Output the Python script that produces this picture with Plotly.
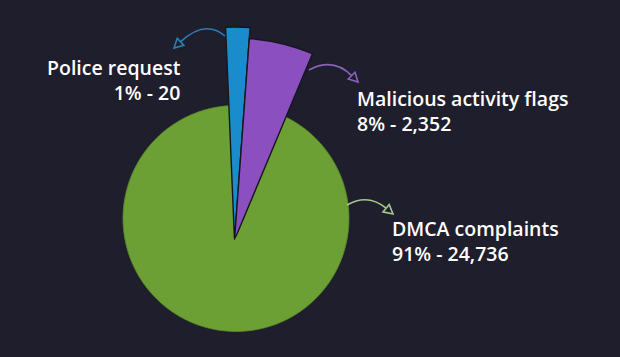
import numpy as np
import plotly.graph_objects as go

# ---------------- data ----------------
labels = ["Police request", "Malicious activity flags", "DMCA complaints"]
percents = [1, 8, 91]
counts = [20, 2352, 24736]
# angular sweep of each slice as drawn in the picture (degrees, clockwise from 12 o'clock)
drawn_sweep_deg = [6.6, 18.5, 334.9]
start_angle_deg = -2.4

# ---------------- styling / layout constants ----------------
W, H = 620, 357
BG = "#1f1e2d"
COLORS = ["#1a8ccc", "#8b4fc0", "#6ca034"]
ARROW_COLORS = ["#2c7db3", "#8a62bb", "#a6c68c"]
EDGE = "#17161f"
FONT = "Open Sans"

GREEN_C = (236.0, 218.5)   # centre of the green disc (px)
GREEN_R = 115.0            # polar radial range for green subplot
APEX = (234.5, 240.0)      # apex of the pulled-out wedges (px)
WEDGE_R = 215.0            # polar radial range for wedge subplot
wedge_len = [213, 202]     # drawn length of blue / purple wedges
green_len = 113

sweep = np.array(drawn_sweep_deg, dtype=float)
theta_start = start_angle_deg + np.concatenate([[0.0], np.cumsum(sweep)[:-1]])
theta_mid = theta_start + sweep / 2


def fx(x):
    return x / W


def fy(y):
    return 1 - y / H


fig = go.Figure()

# green disc (DMCA complaints)
fig.add_trace(go.Barpolar(
    r=[green_len], theta=[theta_mid[2]], width=[sweep[2]],
    marker=dict(color=COLORS[2], line=dict(width=0.8, color="#5a8a2a")),
    subplot="polar", hoverinfo="skip", name=labels[2],
))

# pulled wedges (police request, malicious activity flags)
fig.add_trace(go.Barpolar(
    r=wedge_len, theta=list(theta_mid[:2]), width=list(sweep[:2]),
    marker=dict(color=COLORS[:2], line=dict(width=1.4, color=EDGE)),
    subplot="polar2", hoverinfo="skip",
))

hidden_axes = dict(
    bgcolor="rgba(0,0,0,0)",
    angularaxis=dict(rotation=90, direction="clockwise", visible=False,
                     showgrid=False, showline=False, ticks=""),
)

fig.update_layout(
    width=W, height=H,
    margin=dict(l=0, r=0, t=0, b=0),
    paper_bgcolor=BG, plot_bgcolor=BG,
    showlegend=False,
    polar=dict(
        domain=dict(x=[fx(GREEN_C[0] - GREEN_R), fx(GREEN_C[0] + GREEN_R)],
                    y=[fy(GREEN_C[1] + GREEN_R), fy(GREEN_C[1] - GREEN_R)]),
        radialaxis=dict(range=[0, GREEN_R], visible=False, showgrid=False,
                        showline=False, ticks=""),
        **hidden_axes,
    ),
    polar2=dict(
        sector=[60, 120],
        domain=dict(x=[fx(APEX[0] - WEDGE_R / 2), fx(APEX[0] + WEDGE_R / 2)],
                    y=[fy(APEX[1]), fy(APEX[1] - WEDGE_R)]),
        radialaxis=dict(range=[0, WEDGE_R], visible=False, showgrid=False,
                        showline=False, ticks=""),
        **hidden_axes,
    ),
)


def P(p):
    return f"{fx(p[0]):.5f},{fy(p[1]):.5f}"


# curved arrows: (start, control, end) in px
arrows = [
    ((225, 36), (205, 19), (174, 48)),
    ((309, 70), (333, 57), (358, 82)),
    ((347, 205), (368, 193), (393, 214)),
]
shapes = []
for (p0, p1, p2), col in zip(arrows, ARROW_COLORS):
    d = np.array(p2, float) - np.array(p1, float)
    d /= np.linalg.norm(d)
    n = np.array([-d[1], d[0]])
    tip = np.array(p2, float)
    base = tip - 9 * d
    c1 = base + 4.8 * n
    c2 = base - 4.8 * n
    shapes.append(dict(type="path", xref="paper", yref="paper",
                       path=f"M {P(p0)} Q {P(p1)} {P(tuple(base))}",
                       line=dict(color=col, width=1.6)))
    shapes.append(dict(type="path", xref="paper", yref="paper",
                       path=f"M {P(tuple(c1))} L {P(tuple(tip))} L {P(tuple(c2))} Z",
                       line=dict(color=col, width=1.6), fillcolor="rgba(0,0,0,0)"))
fig.update_layout(shapes=shapes)

# labels: (x px, y px centre, anchor)
label_pos = [(183, 80.5, "right"), (355, 111, "left"), (390, 240.5, "left")]
for i, (x, y, anc) in enumerate(label_pos):
    fig.add_annotation(
        xref="paper", yref="paper", x=fx(x), y=fy(y),
        xanchor=anc, yanchor="middle", align=anc, showarrow=False,
        text=f"{labels[i]}<br>{percents[i]}% - {counts[i]:,}",
        font=dict(family=FONT, size=19.5, color="#ffffff", weight=600),
    )

fig.write_html(
    "out.html",
    config={"displayModeBar": False},
    post_script=("document.body.style.margin='0';"
                 "document.body.style.background='" + BG + "';"
                 "document.body.style.overflow='hidden';"),
)
